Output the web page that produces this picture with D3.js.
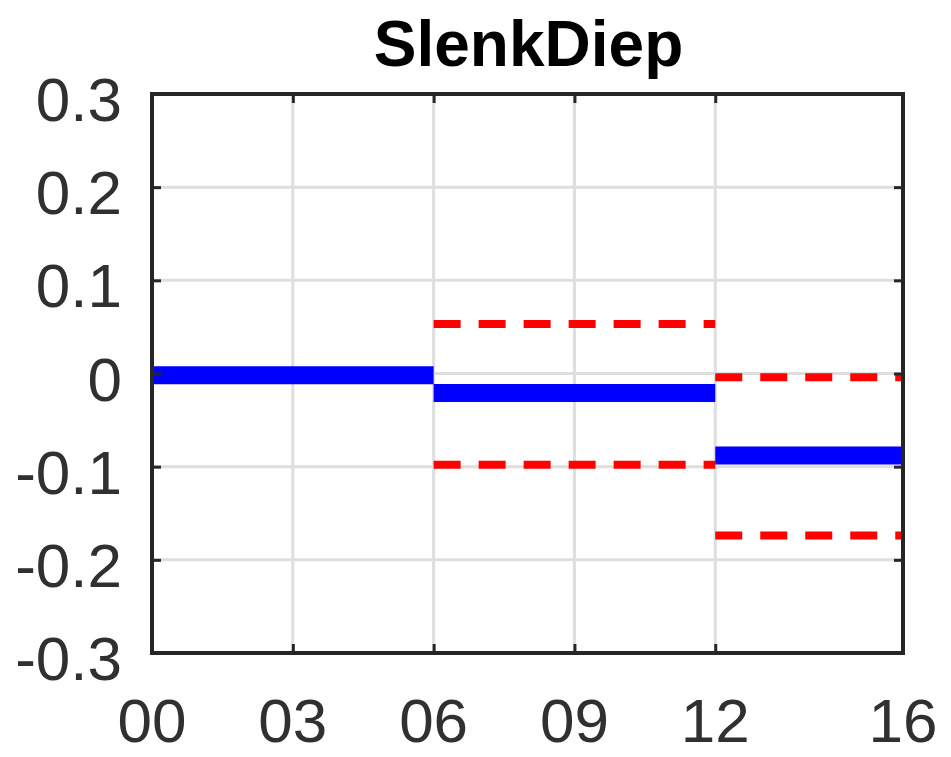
<!DOCTYPE html>
<html>
<head>
<meta charset="utf-8">
<script src="https://cdn.jsdelivr.net/npm/d3@7"></script>
<style>
  html, body { margin: 0; padding: 0; background: #ffffff; }
  svg { display: block; }
</style>
</head>
<body>
<script>
// ---- data ----
const title = "SlenkDiep";
const segStart = [0, 6, 12];
const segEnd = [6, 12, 16];
const meanValues = [-0.002, -0.021, -0.088];
const upperBound = [null, 0.053, -0.004];
const lowerBound = [null, -0.098, -0.174];
const xTicks = [0, 3, 6, 9, 12, 16];
const xTickLabels = ["00", "03", "06", "09", "12", "16"];
const yTicks = [-0.3, -0.2, -0.1, 0, 0.1, 0.2, 0.3];
const yTickLabels = ["-0.3", "-0.2", "-0.1", "0", "0.1", "0.2", "0.3"];

// ---- layout ----
const W = 951, H = 757;
const margin = { left: 152, right: 48, top: 94, bottom: 104 };
const svg = d3.select("body").append("svg").attr("width", W).attr("height", H);

const x = d3.scaleLinear().domain([0, 16]).range([margin.left, W - margin.right]);
const y = d3.scaleLinear().domain([-0.3, 0.3]).range([H - margin.bottom, margin.top]);

const font = "'Liberation Sans', Arial, Helvetica, sans-serif";
const axisColor = "#262626";

// grid
const grid = svg.append("g");
grid.selectAll("line.vx").data(xTicks).join("line")
  .attr("x1", d => x(d)).attr("x2", d => x(d))
  .attr("y1", y(-0.3)).attr("y2", y(0.3))
  .attr("stroke", "#dedede").attr("stroke-width", 3);
grid.selectAll("line.hy").data(yTicks).join("line")
  .attr("y1", d => y(d)).attr("y2", d => y(d))
  .attr("x1", x(0)).attr("x2", x(16))
  .attr("stroke", "#dedede").attr("stroke-width", 3);

// data segments
const segs = segStart.map((s, i) => ({ s, e: segEnd[i], m: meanValues[i], u: upperBound[i], l: lowerBound[i] }));

const dashed = segs.flatMap(d => [d.u, d.l].filter(v => v !== null).map(v => ({ s: d.s, e: d.e, v })));
svg.append("g").selectAll("line").data(dashed).join("line")
  .attr("x1", d => x(d.s)).attr("x2", d => x(d.e))
  .attr("y1", d => y(d.v)).attr("y2", d => y(d.v))
  .attr("stroke", "#ff0000").attr("stroke-width", 8)
  .attr("stroke-dasharray", "27,18");

svg.append("g").selectAll("line").data(segs).join("line")
  .attr("x1", d => x(d.s)).attr("x2", d => x(d.e))
  .attr("y1", d => y(d.m)).attr("y2", d => y(d.m))
  .attr("stroke", "#0000ff").attr("stroke-width", 18);

// axes box with inward ticks
const tickLen = 9;
const xAxisB = d3.axisBottom(x).tickValues(xTicks).tickSize(-tickLen).tickFormat("");
const xAxisT = d3.axisTop(x).tickValues(xTicks).tickSize(-tickLen).tickFormat("");
const yAxisL = d3.axisLeft(y).tickValues(yTicks).tickSize(-tickLen).tickFormat("");
const yAxisR = d3.axisRight(y).tickValues(yTicks).tickSize(-tickLen).tickFormat("");

function styleAxis(g) {
  g.select(".domain").remove();
  g.selectAll(".tick line").attr("stroke", axisColor).attr("stroke-width", 3);
}
svg.append("g").attr("transform", `translate(0,${y(-0.3)})`).call(xAxisB).call(styleAxis);
svg.append("g").attr("transform", `translate(0,${y(0.3)})`).call(xAxisT).call(styleAxis);
svg.append("g").attr("transform", `translate(${x(0)},0)`).call(yAxisL).call(styleAxis);
svg.append("g").attr("transform", `translate(${x(16)},0)`).call(yAxisR).call(styleAxis);

svg.append("rect")
  .attr("x", x(0)).attr("y", y(0.3))
  .attr("width", x(16) - x(0)).attr("height", y(-0.3) - y(0.3))
  .attr("fill", "none").attr("stroke", axisColor).attr("stroke-width", 4);

// tick labels
svg.append("g").selectAll("text").data(xTicks).join("text")
  .attr("x", d => x(d)).attr("y", 742)
  .attr("text-anchor", "middle")
  .attr("font-family", font).attr("font-size", 62).attr("fill", "#303030")
  .text((d, i) => xTickLabels[i]);

svg.append("g").selectAll("text").data(yTicks).join("text")
  .attr("x", 122).attr("y", d => y(d) + 27)
  .attr("text-anchor", "end")
  .attr("font-family", font).attr("font-size", 62).attr("fill", "#303030")
  .text((d, i) => yTickLabels[i]);

// title
svg.append("text")
  .attr("x", (x(0) + x(16)) / 2 + 1).attr("y", 66)
  .attr("text-anchor", "middle")
  .attr("font-family", font).attr("font-size", 64).attr("font-weight", "bold")
  .attr("fill", "#000000")
  .text(title);
</script>
</body>
</html>
